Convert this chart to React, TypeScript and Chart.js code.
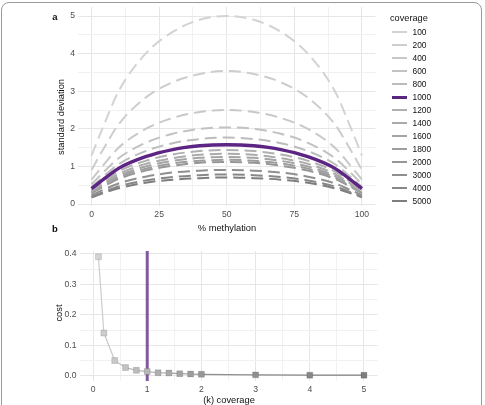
import React, { useEffect, useRef } from "react";
import { Chart, registerables } from "chart.js";

Chart.register(...registerables);

const FONT = '"Liberation Sans", Arial, Helvetica, sans-serif';

// Coverage levels (reads per site); 1000 is the chosen design point
const COVERAGES = [100, 200, 400, 600, 800, 1000, 1200, 1400, 1600, 1800, 2000, 3000, 4000, 5000];
const HIGHLIGHT_COVERAGE = 1000;

// Panel a: standard deviation of the methylation estimate vs % methylation
const METHYLATION = [0, 5, 10, 20, 30, 40, 50, 60, 70, 80, 90, 95, 100];
const SD_100 = [1.29, 2.18, 3.0, 4.0, 4.58, 4.9, 5.0, 4.9, 4.58, 4.0, 3.0, 2.18, 1.29];
const SD_200 = [0.91, 1.54, 2.12, 2.83, 3.24, 3.46, 3.54, 3.46, 3.24, 2.83, 2.12, 1.54, 0.91];
const SD_400 = [0.65, 1.09, 1.5, 2.0, 2.29, 2.45, 2.5, 2.45, 2.29, 2.0, 1.5, 1.09, 0.65];
const SD_600 = [0.53, 0.89, 1.22, 1.63, 1.87, 2.0, 2.04, 2.0, 1.87, 1.63, 1.22, 0.89, 0.53];
const SD_800 = [0.46, 0.77, 1.06, 1.41, 1.62, 1.73, 1.77, 1.73, 1.62, 1.41, 1.06, 0.77, 0.46];
const SD_1000 = [0.41, 0.69, 0.95, 1.26, 1.45, 1.55, 1.58, 1.55, 1.45, 1.26, 0.95, 0.69, 0.41];
const SD_1200 = [0.37, 0.63, 0.87, 1.15, 1.32, 1.41, 1.44, 1.41, 1.32, 1.15, 0.87, 0.63, 0.37];
const SD_1400 = [0.34, 0.58, 0.8, 1.07, 1.22, 1.31, 1.34, 1.31, 1.22, 1.07, 0.8, 0.58, 0.34];
const SD_1600 = [0.32, 0.55, 0.75, 1.0, 1.15, 1.23, 1.25, 1.23, 1.15, 1.0, 0.75, 0.55, 0.32];
const SD_1800 = [0.3, 0.51, 0.71, 0.94, 1.08, 1.15, 1.18, 1.15, 1.08, 0.94, 0.71, 0.51, 0.3];
const SD_2000 = [0.29, 0.49, 0.67, 0.89, 1.02, 1.1, 1.12, 1.1, 1.02, 0.89, 0.67, 0.49, 0.29];
const SD_3000 = [0.24, 0.4, 0.55, 0.73, 0.84, 0.89, 0.91, 0.89, 0.84, 0.73, 0.55, 0.4, 0.24];
const SD_4000 = [0.2, 0.34, 0.47, 0.63, 0.72, 0.77, 0.79, 0.77, 0.72, 0.63, 0.47, 0.34, 0.2];
const SD_5000 = [0.18, 0.31, 0.42, 0.57, 0.65, 0.69, 0.71, 0.69, 0.65, 0.57, 0.42, 0.31, 0.18];
const SD_SERIES = [
  SD_100, SD_200, SD_400, SD_600, SD_800, SD_1000, SD_1200,
  SD_1400, SD_1600, SD_1800, SD_2000, SD_3000, SD_4000, SD_5000,
];

// Panel b: cost per coverage (thousands of reads)
const COVERAGE_K = [0.1, 0.2, 0.4, 0.6, 0.8, 1.0, 1.2, 1.4, 1.6, 1.8, 2.0, 3.0, 4.0, 5.0];
const COST = [0.39, 0.14, 0.05, 0.027, 0.018, 0.014, 0.01, 0.009, 0.007, 0.006, 0.005, 0.003, 0.002, 0.002];
const SELECTED_K = 1;

// Axis tick labels
const METHYLATION_TICKS = [0, 25, 50, 75, 100];
const SD_TICKS = [0, 1, 2, 3, 4, 5];
const K_TICKS = [0, 1, 2, 3, 4, 5];
const COST_TICKS = [0, 0.1, 0.2, 0.3, 0.4];

// Styles
const GREY_LEVELS = [
  "#d3d3d3", "#cdcdcd", "#c8c8c8", "#c2c2c2", "#bcbcbc", "#b6b6b6", "#b0b0b0",
  "#aaaaaa", "#a4a4a4", "#9d9d9d", "#969696", "#8f8f8f", "#878787", "#7e7e7e",
];
const PURPLE = "#5c2483";
const PURPLE_SOFT = "rgba(92, 36, 131, 0.75)";
const TICK_COLOR = "#4d4d4d";
const GRID_MAJOR = "#e6e6e6";
const GRID_MINOR = "#f1f1f1";

const W = 485;
const H = 405;

function withMinor(majors: number[]): number[] {
  const out: number[] = [];
  majors.forEach((v, i) => {
    out.push(v);
    if (i < majors.length - 1) out.push((v + majors[i + 1]) / 2);
  });
  return out;
}

function isMajor(majors: number[], v: number) {
  return majors.some((m) => Math.abs(m - v) < 1e-9);
}

function axis(majors: number[], fmt: (v: number) => string, extra: any) {
  return {
    type: "linear",
    bounds: "data",
    afterBuildTicks: (s: any) => {
      s.ticks = withMinor(majors).map((value) => ({ value }));
    },
    border: { display: false },
    grid: {
      drawTicks: false,
      lineWidth: 1,
      color: (c: any) => (c.tick && isMajor(majors, c.tick.value) ? GRID_MAJOR : GRID_MINOR),
    },
    ticks: {
      autoSkip: false,
      maxRotation: 0,
      padding: 3,
      color: TICK_COLOR,
      font: { family: FONT, size: 8.6 },
      callback: (v: any) => (isMajor(majors, Number(v)) ? fmt(Number(v)) : ""),
    },
    ...extra,
  };
}

type TextItem = { text: string; x: number; y: number; size: number; bold?: boolean; rotate?: number };

function textPlugin(id: string, items: TextItem[]) {
  return {
    id,
    afterDraw(chart: any) {
      const ctx = chart.ctx as CanvasRenderingContext2D;
      items.forEach((it) => {
        ctx.save();
        ctx.font = `${it.bold ? "bold " : ""}${it.size}px ${FONT}`;
        ctx.fillStyle = "#111";
        ctx.textAlign = "center";
        ctx.textBaseline = "middle";
        ctx.translate(it.x, it.y);
        if (it.rotate) ctx.rotate(it.rotate);
        ctx.fillText(it.text, 0, 0);
        ctx.restore();
      });
    },
  };
}

function fixX(height: number) {
  return (s: any) => {
    s.height = height;
    s.paddingLeft = 0;
    s.paddingRight = 0;
  };
}
function fixY(width: number) {
  return (s: any) => {
    s.width = width;
    s.paddingTop = 0;
    s.paddingBottom = 0;
  };
}

export default function App() {
  const refA = useRef<HTMLCanvasElement>(null);
  const refB = useRef<HTMLCanvasElement>(null);

  useEffect(() => {
    // Panel a: plot area 78..375.5 x 7..206
    const chartA = new Chart(refA.current as HTMLCanvasElement, {
      type: "line",
      data: {
        datasets: COVERAGES.map((cov, i) => {
          const hi = cov === HIGHLIGHT_COVERAGE;
          return {
            label: String(cov),
            data: METHYLATION.map((x, j) => ({ x, y: SD_SERIES[i][j] })),
            borderColor: hi ? PURPLE : GREY_LEVELS[i],
            borderWidth: hi ? 3.4 : 2,
            borderDash: hi ? [] : [12, 6],
            pointRadius: 0,
            cubicInterpolationMode: "monotone",
            fill: false,
            order: hi ? 0 : 1,
          };
        }),
      },
      options: {
        responsive: false,
        animation: false,
        events: [],
        layout: { padding: { left: 0, top: 7, right: W - 375.5, bottom: H - 206 - 20 } },
        plugins: { legend: { display: false }, tooltip: { enabled: false } },
        scales: {
          x: axis(METHYLATION_TICKS, (v) => String(v), { min: -5, max: 105, afterFit: fixX(20) }),
          y: axis(SD_TICKS, (v) => String(v), { min: -0.05, max: 5.24, afterFit: fixY(78) }),
        },
      } as any,
      plugins: [
        textPlugin("panelTextA", [
          { text: "a", x: 55, y: 17, size: 9.5, bold: true },
          { text: "standard deviation", x: 61, y: 117, size: 9.3, rotate: -Math.PI / 2 },
          { text: "% methylation", x: 227, y: 228, size: 9.3 },
        ]),
      ],
    });

    // Panel b: plot area 79.5..377.5 x 251..381
    const chartB = new Chart(refB.current as HTMLCanvasElement, {
      type: "line",
      data: {
        datasets: [
          {
            label: "cost",
            data: COVERAGE_K.map((x, i) => ({ x, y: COST[i] })),
            borderColor: "#d3d3d3",
            borderWidth: 1.2,
            segment: { borderColor: (c: any) => GREY_LEVELS[c.p1DataIndex] },
            pointStyle: "rect",
            pointRadius: 4.2,
            pointBorderWidth: 1,
            pointBackgroundColor: GREY_LEVELS,
            pointBorderColor: "rgba(0,0,0,0.12)",
            tension: 0,
            fill: false,
            order: 1,
          },
          {
            label: "selected",
            data: [
              { x: SELECTED_K, y: -0.017 },
              { x: SELECTED_K, y: 0.409 },
            ],
            borderColor: PURPLE_SOFT,
            borderWidth: 3,
            pointRadius: 0,
            fill: false,
            order: 2,
          },
        ],
      },
      options: {
        responsive: false,
        animation: false,
        events: [],
        layout: { padding: { left: 0, top: 251, right: W - 377.5, bottom: H - 381 - 20 } },
        plugins: { legend: { display: false }, tooltip: { enabled: false } },
        scales: {
          x: axis(K_TICKS, (v) => String(v), { min: -0.25, max: 5.25, afterFit: fixX(20) }),
          y: axis(COST_TICKS, (v) => v.toFixed(1), { min: -0.017, max: 0.409, afterFit: fixY(79.5) }),
        },
      } as any,
      plugins: [
        textPlugin("panelTextB", [
          { text: "b", x: 55, y: 229, size: 9.5, bold: true },
          { text: "cost", x: 59, y: 313, size: 9.3, rotate: -Math.PI / 2 },
          { text: "(k) coverage", x: 229, y: 400, size: 9.3 },
        ]),
      ],
    });

    return () => {
      chartA.destroy();
      chartB.destroy();
    };
  }, []);

  const abs = { position: "absolute" as const, left: 0, top: 0 };

  return (
    <div
      style={{
        position: "absolute",
        left: 0,
        top: 0,
        width: W,
        height: H,
        overflow: "hidden",
        background: "#fff",
        fontFamily: FONT,
      }}
    >
      <div
        style={{
          position: "absolute",
          left: 1,
          top: 2,
          width: 479,
          height: 440,
          border: "1px solid #9a9a9a",
          borderRadius: 8,
        }}
      />
      <canvas ref={refA} width={W} height={H} style={abs} />
      <canvas ref={refB} width={W} height={H} style={abs} />
      <div style={{ position: "absolute", left: 390, top: 12, fontSize: 9.2, lineHeight: "12px", color: "#111" }}>
        coverage
      </div>
      {COVERAGES.map((cov, i) => {
        const hi = cov === HIGHLIGHT_COVERAGE;
        return (
          <div
            key={cov}
            style={{
              position: "absolute",
              left: 392,
              top: 32 + 13 * i - 6,
              height: 12,
              display: "flex",
              alignItems: "center",
            }}
          >
            <span
              style={{
                display: "inline-block",
                width: 15,
                height: hi ? 3 : 2.5,
                background: hi ? PURPLE : GREY_LEVELS[i],
              }}
            />
            <span style={{ marginLeft: 5.5, fontSize: 8.4, lineHeight: "12px", color: "#111" }}>{cov}</span>
          </div>
        );
      })}
    </div>
  );
}
